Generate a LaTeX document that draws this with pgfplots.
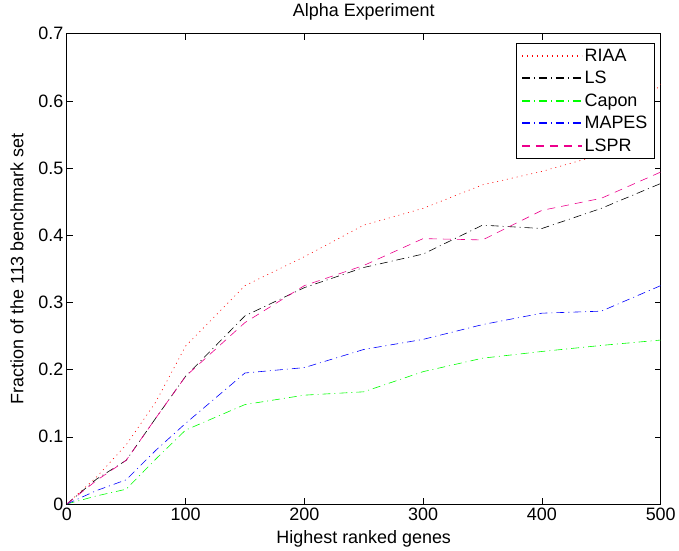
\documentclass[border=0pt]{standalone}
\usepackage{fontspec}
\setmainfont{Liberation Sans}
\usepackage{pgfplots}
\pgfplotsset{compat=1.18}
\begin{document}
\begin{tikzpicture}[font=\fontsize{18pt}{20pt}\selectfont]
\begin{axis}[
  scale only axis,
  width=596pt, height=472pt,
  xmin=0, xmax=500, ymin=0, ymax=0.7,
  xtick={0,100,...,500},
  ytick={0,0.1,...,0.7},
  yticklabel style={/pgf/number format/fixed,/pgf/number format/precision=1},
  /pgf/number format/assume math mode=true,
  tick align=inside,
  major tick length=6pt,
  axis line style={line width=0.8pt},
  every tick/.style={line width=0.6pt, black},
  title={Alpha Experiment},
  title style={at={(axis description cs:0.5,1.034)}, anchor=center},
  xlabel={Highest ranked genes},
  ylabel={Fraction of the 113 benchmark set},
  xlabel style={at={(axis description cs:0.5,-0.0742)}, anchor=center},
  ylabel style={at={(axis description cs:-0.0839,0.5)}, anchor=center, rotate=0},
  ticklabel style={font=\fontsize{18pt}{20pt}\selectfont},
  legend style={at={(0.990,0.981)}, anchor=north east, line width=0.8pt,
    font=\fontsize{18pt}{20pt}\selectfont, row sep=4.5pt, inner xsep=5pt, inner ysep=4pt,
    cells={anchor=west}},
  legend image code/.code={\draw[#1, line width=1.6pt] (0pt,0pt) -- (60pt,0pt);},
]
\addplot[color=red, draw=red, line width=0.6pt, dash pattern=on 1pt off 4pt] coordinates {
(0,0) (25,0.04) (50,0.088) (75,0.152) (100,0.235) (150,0.325) (200,0.368) (250,0.415) (300,0.44) (350,0.475) (400,0.495) (450,0.52) (500,0.625)};
\addlegendentry{RIAA}
\addplot[color=black, draw=black, line width=0.6pt, dash pattern=on 8pt off 4pt on 1pt off 4pt] coordinates {
(0,0) (25,0.037) (50,0.065) (75,0.128) (100,0.19) (150,0.28) (200,0.322) (250,0.352) (300,0.372) (350,0.415) (400,0.41) (450,0.44) (500,0.477)};
\addlegendentry{LS}
\addplot[color=green, draw=green, line width=0.6pt, dash pattern=on 8pt off 4pt on 1pt off 4pt] coordinates {
(0,0) (25,0.012) (50,0.022) (75,0.067) (100,0.11) (150,0.148) (200,0.162) (250,0.167) (300,0.197) (350,0.217) (400,0.227) (450,0.236) (500,0.244)};
\addlegendentry{Capon}
\addplot[color=blue, draw=blue, line width=0.6pt, dash pattern=on 8pt off 4pt on 1pt off 4pt] coordinates {
(0,0) (25,0.02) (50,0.036) (75,0.08) (100,0.12) (150,0.195) (200,0.203) (250,0.23) (300,0.245) (350,0.267) (400,0.284) (450,0.287) (500,0.325)};
\addlegendentry{MAPES}
\addplot[color=magenta, draw=magenta, line width=0.6pt, dash pattern=on 8pt off 6pt] coordinates {
(0,0) (25,0.035) (50,0.065) (75,0.128) (100,0.19) (150,0.27) (200,0.325) (250,0.355) (300,0.395) (350,0.393) (400,0.437) (450,0.455) (500,0.494)};
\addlegendentry{LSPR}
\end{axis}
\path ([xshift=-67pt,yshift=-47pt]current axis.south west) rectangle ([xshift=16pt,yshift=33pt]current axis.north east);
\end{tikzpicture}
\end{document}
